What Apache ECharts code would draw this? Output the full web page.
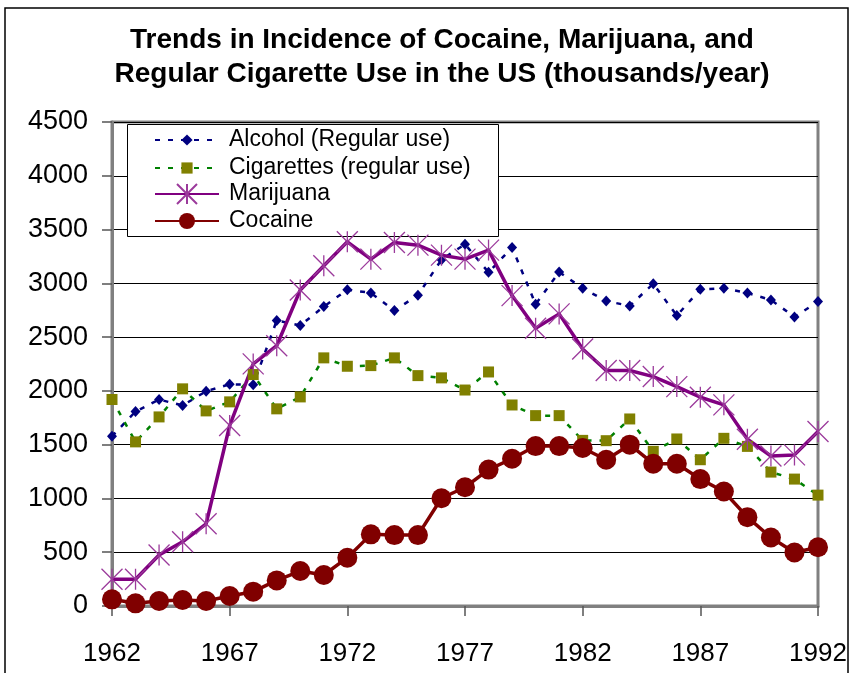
<!DOCTYPE html>
<html>
<head>
<meta charset="utf-8">
<script src="https://cdn.jsdelivr.net/npm/echarts@6/dist/echarts.min.js"></script>
<style>html,body{margin:0;padding:0;background:#fff;}#c{width:851px;height:673px;}</style>
</head>
<body>
<div id="c"></div>
<script>
var years = ['1962','1963','1964','1965','1966','1967','1968','1969','1970','1971','1972','1973','1974','1975','1976','1977','1978','1979','1980','1981','1982','1983','1984','1985','1986','1987','1988','1989','1990','1991','1992'];
var alcohol = [1579,1808,1920,1864,1997,2062,2056,2654,2608,2784,2941,2911,2747,2890,3220,3364,3102,3333,2806,3105,2954,2836,2790,2997,2700,2944,2954,2910,2846,2688,2830];
var cigarettes = [1920,1526,1758,2019,1814,1898,2152,1833,1944,2307,2229,2235,2307,2142,2121,2008,2176,1869,1770,1770,1540,1537,1739,1438,1553,1360,1559,1484,1245,1180,1031];
var marijuana = [248,248,474,597,764,1678,2251,2420,2938,3164,3386,3225,3380,3355,3262,3225,3309,2886,2583,2716,2389,2189,2189,2133,2040,1941,1870,1550,1395,1405,1623];
var cocaine = [62,25,46,56,46,93,133,238,325,288,449,666,659,659,1002,1104,1268,1369,1487,1487,1469,1360,1500,1323,1323,1180,1065,826,637,497,546];
var yTicks = {min:0, max:4500, interval:500};
var seriesNames = ['Alcohol (Regular use)','Cigarettes (regular use)','Marijuana','Cocaine'];

var chart = echarts.init(document.getElementById('c'), null, {renderer:'canvas'});
var FONT = '"Liberation Sans", Arial, sans-serif';

var legendRows = [140, 168, 194, 221];
var legendIconH = [14, 14, 25, 20];
var ROWH = 26;
var legends = seriesNames.map(function(n, i){
  return {
    orient:'vertical', left:154, top:legendRows[i] - ROWH/2,
    data:[n], padding:0, itemWidth:64, itemHeight:legendIconH[i],
    selectedMode:false,
    textStyle:{fontFamily:FONT, fontSize:23, lineHeight:ROWH, color:'#000', padding:[0,0,0,5]}
  };
});

chart.setOption({
  animation:false,
  backgroundColor:'#fff',
  title:{
    text:'Trends in Incidence of Cocaine, Marijuana, and\nRegular Cigarette Use in the US (thousands/year)',
    left:437, top:18, textAlign:'center',
    textStyle:{fontFamily:FONT, fontWeight:'bold', fontSize:28, lineHeight:34, color:'#000'}
  },
  graphic:[
    {type:'rect', shape:{x:5,y:8,width:843,height:700}, style:{fill:'none', stroke:'#000', lineWidth:1.5}, silent:true, z:100},
    {type:'rect', shape:{x:127.5,y:124.5,width:371,height:112}, style:{fill:'#fff', stroke:'#000', lineWidth:1}, silent:true, z:3}
  ],
  legend:legends,
  grid:{left:112, right:33, top:122, bottom:67, show:true, borderColor:'#808080', borderWidth:3, containLabel:false},
  xAxis:{
    type:'category', data:years, boundaryGap:false,
    axisLine:{lineStyle:{color:'#808080', width:3}},
    axisTick:{interval:4, length:10, lineStyle:{color:'#555', width:1.5}},
    axisLabel:{interval:4, margin:35, fontFamily:FONT, fontSize:26, color:'#000'},
    splitLine:{show:false}
  },
  yAxis:{
    type:'value', min:yTicks.min, max:yTicks.max, interval:yTicks.interval,
    axisLine:{show:true, lineStyle:{color:'#808080', width:3}},
    axisTick:{show:true, length:10, lineStyle:{color:'#555', width:1.5}},
    axisLabel:{margin:24, fontFamily:FONT, fontSize:27, color:'#000', formatter:function(v){return String(v);}},
    splitLine:{lineStyle:{color:'#000', width:1}}
  },
  series:[
    {name:seriesNames[0], type:'line', data:alcohol, symbol:'diamond', symbolSize:[10,11], showAllSymbol:true,
     itemStyle:{color:'#000080'}, lineStyle:{color:'#000080', width:2.5, type:[5,8]}},
    {name:seriesNames[1], type:'line', data:cigarettes, symbol:'rect', symbolSize:11, showAllSymbol:true,
     itemStyle:{color:'#808000'}, lineStyle:{color:'#008000', width:2.5, type:[5,8]}},
    {name:seriesNames[2], type:'line', data:marijuana, symbol:'path://M0,0L20,20M20,0L0,20M10,0L10,20', symbolSize:21, showAllSymbol:true,
     itemStyle:{color:'#800080', borderColor:'#9b3a9b', borderWidth:1.3}, lineStyle:{color:'#800080', width:3.5}},
    {name:seriesNames[3], type:'line', data:cocaine, symbol:'circle', symbolSize:20, showAllSymbol:true,
     itemStyle:{color:'#800000'}, lineStyle:{color:'#800000', width:3.5}}
  ]
});
</script>
</body>
</html>
